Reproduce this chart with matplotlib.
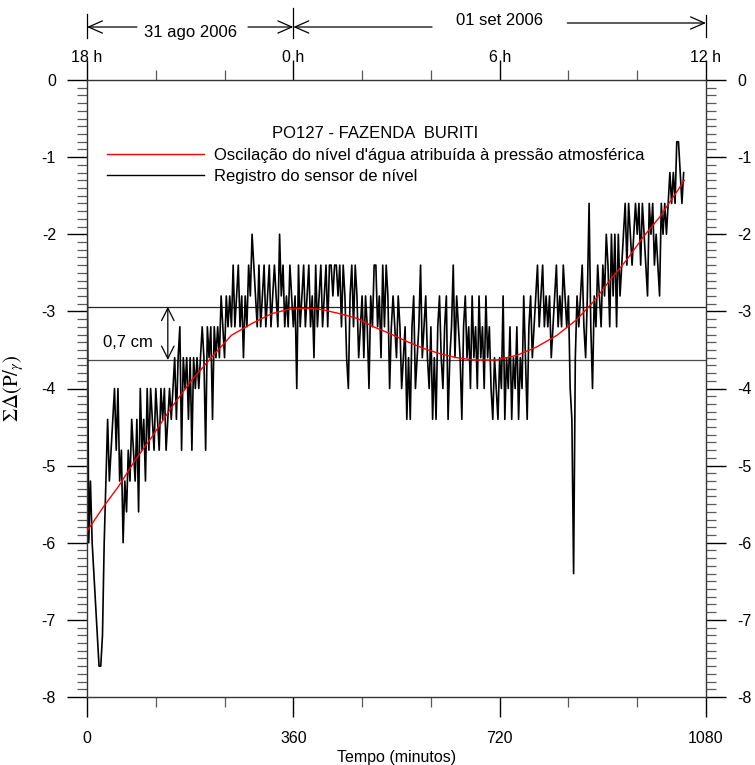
import numpy as np
import matplotlib
matplotlib.use("Agg")
import matplotlib.pyplot as plt
import matplotlib.transforms as mtransforms
from matplotlib.lines import Line2D
from matplotlib.ticker import MultipleLocator

plt.rcParams['font.family'] = ['Liberation Sans', 'DejaVu Sans']
plt.rcParams['mathtext.fontset'] = 'stix'
plt.rcParams['axes.unicode_minus'] = False

# ---- registro do sensor de nivel (cm), uma leitura a cada 3 minutos ----
passo_sensor = 3
sensor = [
    -1.6, -6.0, -5.2, -6.0, -6.4, -6.8, -7.2, -7.6, -7.6, -7.2, -6.0, -5.2, -4.4, -5.2, -4.8, -4.4, -4.0, -4.8, -4.0, -5.2,
    -4.8, -6.0, -5.2, -5.6, -4.8, -5.2, -4.4, -4.8, -5.2, -4.4, -5.6, -4.0, -4.8, -4.4, -5.2, -4.0, -4.8, -4.0, -4.4, -4.8,
    -4.0, -4.4, -4.8, -4.0, -4.4, -4.0, -4.8, -4.4, -4.0, -4.4, -4.0, -3.6, -4.4, -3.6, -3.2, -4.8, -3.6, -4.0, -3.6, -4.4,
    -3.6, -4.8, -3.6, -4.0, -3.6, -4.0, -3.6, -3.2, -3.6, -4.8, -3.2, -3.6, -3.2, -4.4, -3.2, -3.6, -3.2, -3.6, -2.8, -3.2,
    -3.6, -2.8, -3.2, -2.8, -3.2, -2.4, -3.2, -2.8, -2.4, -3.2, -2.8, -3.6, -2.8, -3.2, -2.4, -2.8, -2.0, -2.4, -2.8, -3.2,
    -2.4, -3.2, -2.8, -2.4, -3.2, -2.8, -2.4, -3.2, -2.8, -2.4, -2.8, -3.2, -2.0, -2.8, -2.4, -3.2, -2.8, -3.2, -2.4, -2.8,
    -3.2, -2.8, -4.0, -2.4, -3.2, -2.8, -2.4, -3.2, -2.8, -2.4, -3.2, -2.8, -3.6, -2.4, -3.2, -2.8, -2.4, -3.2, -2.8, -2.4,
    -3.2, -2.4, -2.4, -2.8, -2.4, -2.4, -2.8, -2.4, -3.2, -2.4, -2.8, -3.6, -4.0, -2.8, -2.4, -3.2, -2.4, -2.8, -3.6, -3.2,
    -2.8, -3.6, -2.8, -3.2, -4.0, -2.8, -3.2, -2.4, -2.4, -3.2, -2.8, -3.6, -2.4, -3.2, -2.4, -2.8, -4.0, -3.2, -2.8, -3.2,
    -3.6, -2.8, -3.2, -4.0, -3.6, -3.2, -4.4, -3.6, -4.4, -3.2, -2.8, -4.0, -3.6, -3.2, -2.4, -3.6, -3.2, -2.8, -3.6, -4.0,
    -3.2, -4.4, -3.6, -4.4, -3.2, -2.8, -3.6, -4.0, -3.2, -2.8, -4.4, -3.6, -3.2, -2.4, -3.6, -2.8, -3.2, -3.6, -4.4, -3.2,
    -2.8, -3.6, -3.2, -4.0, -2.8, -3.6, -3.2, -4.0, -2.8, -3.6, -3.2, -4.0, -2.8, -3.6, -3.2, -4.0, -4.4, -3.6, -4.0, -4.4,
    -3.6, -4.0, -2.8, -4.4, -3.6, -4.0, -3.2, -4.4, -3.6, -4.0, -3.2, -4.4, -3.6, -4.0, -2.8, -3.6, -4.4, -3.2, -2.8, -3.6,
    -3.2, -2.8, -2.4, -3.2, -2.8, -2.4, -3.2, -2.8, -3.2, -2.8, -3.6, -3.2, -2.8, -2.4, -3.2, -2.8, -3.2, -2.4, -2.8, -3.2,
    -2.8, -4.0, -4.4, -6.4, -3.6, -2.8, -3.2, -2.8, -2.4, -3.2, -3.6, -2.8, -1.6, -3.2, -4.0, -2.8, -3.2, -2.4, -2.8, -3.2,
    -2.4, -2.8, -2.0, -2.4, -3.2, -2.0, -2.8, -2.0, -3.2, -2.0, -2.8, -2.4, -2.0, -1.6, -2.4, -1.6, -2.0, -2.4, -2.0, -1.6,
    -2.0, -1.6, -2.4, -1.6, -2.0, -2.4, -2.8, -1.6, -2.0, -1.6, -2.4, -2.0, -2.4, -2.8, -1.6, -2.0, -1.6, -2.0, -1.6, -1.2,
    -1.6, -1.2, -1.6, -0.8, -0.8, -1.2, -1.6, -1.2,
]
tempo_sensor = np.arange(len(sensor)) * passo_sensor

# ---- oscilacao atribuida a pressao atmosferica (cm) ----
tempo_pressao = [0, 31, 55, 84, 113, 148, 183, 218, 252, 287, 322, 354, 389, 412, 441, 471, 500, 529,
                 558, 587, 616, 645, 674, 715, 750, 785, 820, 854, 883, 913, 942, 971, 1000, 1017, 1029, 1042]
pressao = [-5.85, -5.51, -5.27, -4.93, -4.63, -4.24, -3.89, -3.59, -3.31, -3.16, -3.03, -2.97, -2.96, -2.98,
           -3.03, -3.09, -3.20, -3.29, -3.39, -3.48, -3.55, -3.60, -3.63, -3.63, -3.57, -3.46, -3.31, -3.11,
           -2.88, -2.59, -2.33, -2.03, -1.77, -1.58, -1.45, -1.30]

# niveis de referencia (maximo e minimo da oscilacao)
nivel_max = -2.94
nivel_min = -3.63

horas_top = [0, 360, 720, 1080]
horas_lbl = ['18 h', '0 h', '6 h', '12 h']

W, H = 755, 765
fig = plt.figure(figsize=(W / 100, H / 100), dpi=100)
ax = fig.add_axes([87 / W, 1 - 697 / H, (706 - 87) / W, (697 - 80) / H])

ax.plot(tempo_sensor, sensor, color='black', lw=1.2, zorder=2)
ax.plot(tempo_pressao, pressao, color='red', lw=1.0, zorder=3)
ax.axhline(nivel_max, color='0.15', lw=0.9, zorder=1)
ax.axhline(nivel_min, color='0.3', lw=0.9, zorder=1)

ax.set_xlim(0, 1080)
ax.set_ylim(-8, 0)
ax.xaxis.set_major_locator(MultipleLocator(360))
ax.xaxis.set_minor_locator(MultipleLocator(120))
ax.yaxis.set_major_locator(MultipleLocator(1))
ax.yaxis.set_minor_locator(MultipleLocator(0.1))

ax.tick_params(axis='both', which='major', direction='out', length=14.4, width=1.0, labelsize=11.5)
ax.tick_params(axis='both', which='minor', direction='out', length=7.2, width=0.9, color='0.35')
ax.tick_params(axis='y', which='both', left=True, right=True, labelleft=True, labelright=True, pad=8)
ax.tick_params(axis='x', which='both', top=True, bottom=True, labeltop=False, pad=10)
for s in ax.spines.values():
    s.set_linewidth(1.0)
    s.set_color('0.2')

ax.set_xlabel('Tempo (minutos)', fontsize=11.5)
ax.xaxis.set_label_coords(0.5, (697 - 750) / 617)
ax.set_ylabel(r'$\Sigma\Delta(\mathrm{P}/_{\gamma})$', fontsize=15)
ax.yaxis.set_label_coords((26 - 87) / 619, 0.5)

# ---- eixo superior: horas e datas ----
tr = mtransforms.blended_transform_factory(ax.transData, fig.transFigure)
def fy(py):
    return 1 - py / H

for x, lbl in zip(horas_top, horas_lbl):
    ax.text(x, fy(57), lbl, transform=tr, ha='center', va='center', fontsize=11.5)

for x, y0, y1 in [(0, 14, 38), (360, 8, 38), (1080, 15, 37)]:
    ax.plot([x, x], [fy(y0), fy(y1)], color='black', lw=0.9, transform=tr, clip_on=False)

seta = dict(arrowstyle='->,head_length=0.5,head_width=0.22', lw=0.9, color='black',
            shrinkA=0, shrinkB=0, mutation_scale=20)
for x0, x1, y in [(87, 0, 27), (281, 360, 27), (602, 360, 27), (838, 1080, 23)]:
    ax.annotate('', xy=(x1, fy(y)), xycoords=tr, xytext=(x0, fy(y)), textcoords=tr,
                arrowprops=seta, annotation_clip=False)
ax.text(180, fy(37), '31 ago 2006', transform=tr, ha='center', va='baseline', fontsize=12)
ax.text(719, fy(25), '01 set 2006', transform=tr, ha='center', va='baseline', fontsize=12)

# ---- amplitude 0,7 cm ----
ax.annotate('', xy=(141, nivel_max), xytext=(141, nivel_min),
            arrowprops=dict(arrowstyle='<->,head_length=0.6,head_width=0.3', lw=0.9,
                            color='black', shrinkA=0, shrinkB=0, mutation_scale=15))
ax.text(72, -3.41, '0,7 cm', ha='center', va='center', fontsize=12)

# ---- legenda ----
h_red = Line2D([], [], color='red', lw=1.0)
h_blk = Line2D([], [], color='black', lw=1.0)
leg = ax.legend([h_red, h_blk],
                ["Oscilação do nível d'água atribuída à pressão atmosférica",
                 'Registro do sensor de nível'],
                title='PO127 - FAZENDA  BURITI', loc='upper left',
                bbox_to_anchor=(107 / W, fy(126)), bbox_transform=fig.transFigure,
                frameon=False, fontsize=12, title_fontsize=12, handlelength=5.8,
                handletextpad=0.6, labelspacing=0.4, borderpad=0, borderaxespad=0)

fig.savefig('out.png', dpi=100)
